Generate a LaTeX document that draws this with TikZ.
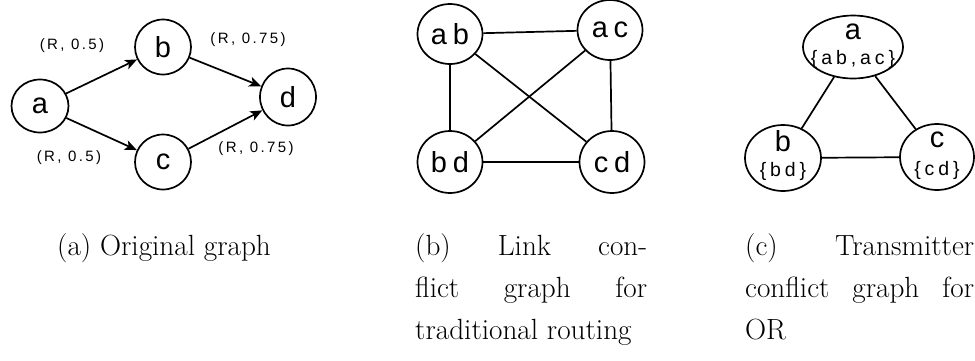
\documentclass[tikz,border=0pt]{standalone}
\usepackage{fontspec}
\usetikzlibrary{arrows.meta,shapes.geometric}
\newfontfamily\labfont[LetterSpace=16]{Liberation Sans}
\newfontfamily\nodefont[LetterSpace=20]{Liberation Sans}
\begin{document}
\begin{tikzpicture}[x=1pt,y=-1pt,
  vtx/.style={draw, line width=1.7pt, ellipse, inner sep=0pt, font=\nodefont\fontsize{29}{29}\selectfont},
  arr/.style={-{Stealth[length=12pt,width=10pt,inset=3pt]}, line width=1.7pt},
  edge/.style={line width=1.7pt},
  elab/.style={font=\labfont\fontsize{15}{15}\selectfont, inner sep=0pt},
  setlab/.style={font=\nodefont\fontsize{19.5}{19.5}\selectfont, inner sep=0pt},
  bigl/.style={font=\nodefont\fontsize{29}{29}\selectfont, inner sep=0pt},
  capt/.style={anchor=base west, inner sep=0pt, font=\fontsize{29.2}{42}\selectfont}]
\useasboundingbox (0,0) rectangle (975,360);
% panel (a)
\node[vtx, minimum width=57pt, minimum height=53pt] (a) at (40,106) {a};
\node[vtx, minimum width=56pt, minimum height=55pt] (b) at (163,47) {b};
\node[vtx, minimum width=56pt, minimum height=55pt] (c) at (163,162) {c};
\node[vtx, minimum width=56pt, minimum height=57pt] (d) at (288,97) {d};
\draw[arr] (a) -- (b);
\draw[arr] (a) -- (c);
\draw[arr] (b) -- (d);
\draw[arr] (c) -- (d);
\node[elab] (l1) at (72,46) {(R, 0.5)};
\node[elab] (l2) at (248,40) {(R, 0.75)};
\node[elab] (l3) at (69,158) {(R, 0.5)};
\node[elab] (l4) at (256,149) {(R, 0.75)};
% panel (b)
\node[vtx, minimum width=65pt, minimum height=60pt] (ab) at (450,34) {ab};
\node[vtx, minimum width=65pt, minimum height=60pt] (ac) at (610,30) {ac};
\node[vtx, minimum width=65pt, minimum height=62pt] (bd) at (450,162) {bd};
\node[vtx, minimum width=65pt, minimum height=62pt] (cd) at (612,162) {cd};
\draw[edge] (ab) -- (ac);
\draw[edge] (ab) -- (bd);
\draw[edge] (ab) -- (cd);
\draw[edge] (ac) -- (bd);
\draw[edge] (ac) -- (cd);
\draw[edge] (bd) -- (cd);
% panel (c)
\node[draw, line width=1.7pt, ellipse, minimum width=100pt, minimum height=63pt, inner sep=0pt] (A) at (853,47) {};
\node[draw, line width=1.7pt, ellipse, minimum width=76pt, minimum height=66pt, inner sep=0pt] (B) at (783,158) {};
\node[draw, line width=1.7pt, ellipse, minimum width=74pt, minimum height=66pt, inner sep=0pt] (C) at (937,157) {};
\node[bigl] (At) at (853,32) {a};
\node[setlab] (As) at (853,59) {\{ab,ac\}};
\node[bigl] (Bt) at (783,141) {b};
\node[setlab] (Bs) at (783,171) {\{bd\}};
\node[bigl] (Ct) at (937,140) {c};
\node[setlab] (Cs) at (937,170) {\{cd\}};
\draw[edge] (A) -- (B);
\draw[edge] (A) -- (C);
\draw[edge] (B) -- (C);
% captions
\node[capt] (ca) at (57,255) {(a) Original graph};
\node[capt] (cb1) at (415,255) {\hbox to 232pt{(b)\hfill Link\hfill con-}};
\node[capt] (cb2) at (415,297) {\hbox to 232pt{flict\hfill graph\hfill for}};
\node[capt] (cb3) at (415,339) {traditional routing};
\node[capt] (cc1) at (745,255) {\hbox to 229pt{(c)\hfill Transmitter}};
\node[capt] (cc2) at (745,297) {\hbox to 229pt{conflict\hfill graph\hfill for}};
\node[capt] (cc3) at (745,339) {OR};
\end{tikzpicture}
\end{document}
